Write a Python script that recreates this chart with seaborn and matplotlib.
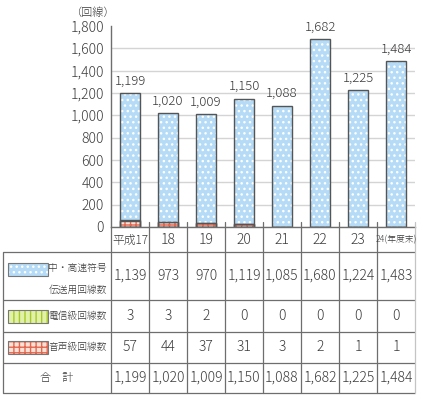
import matplotlib
matplotlib.use("Agg")
import matplotlib.pyplot as plt
import matplotlib.transforms as mtrans
from matplotlib.patches import Rectangle
from matplotlib.ticker import FuncFormatter
import seaborn as sns

# data (回線数)
years = ["平成17", "18", "19", "20", "21", "22", "23", "24(年度末)"]
high_speed = [1139, 973, 970, 1119, 1085, 1680, 1224, 1483]   # 中・高速符号伝送用回線数
telegraph = [3, 3, 2, 0, 0, 0, 0, 0]                          # 電信級回線数
voice = [57, 44, 37, 31, 3, 2, 1, 1]                          # 音声級回線数
totals = [1199, 1020, 1009, 1150, 1088, 1682, 1225, 1484]    # 合計

series_labels = [["中・高速符号", "伝送用回線数"], ["電信級回線数"], ["音声級回線数"]]

sns.set_theme(style="white")
plt.rcParams["font.family"] = ["Noto Sans CJK JP", "DejaVu Sans"]
plt.rcParams["font.weight"] = "light"
plt.rcParams["hatch.linewidth"] = 1.0

TXT = "#3c3c3c"
LINE = "#6e6e6e"
BLUE, BLUE_H = "#b5dbf6", "white"
GREEN, GREEN_H = "#e2f1a8", "#a6c92a"
RED, RED_H = "#fbe0d6", "#e2674f"

fig = plt.figure(figsize=(4.21, 3.96), dpi=100)
ax = fig.add_axes([111 / 421, 169 / 396, 304 / 421, 201 / 396])
ax.set_facecolor("none")

# stacked tops
top_tele = [v + t for v, t in zip(voice, telegraph)]
top_all = [a + b for a, b in zip(top_tele, high_speed)]

W = 0.53
sns.barplot(x=years, y=top_all, color=BLUE, saturation=1, width=W, errorbar=None,
            hatch="...", edgecolor=BLUE_H, linewidth=0, ax=ax)
sns.barplot(x=years, y=top_tele, color=GREEN, saturation=1, width=W, errorbar=None,
            hatch="|||", edgecolor=GREEN_H, linewidth=0, ax=ax)
sns.barplot(x=years, y=voice, color=RED, saturation=1, width=W, errorbar=None,
            hatch="+++", edgecolor=RED_H, linewidth=0, ax=ax)
for vals in (top_all, top_tele, voice):
    sns.barplot(x=years, y=vals, fill=False, color="#555555", width=W, errorbar=None,
                linewidth=1.0, ax=ax)

# totals above bars
ax.bar_label(ax.containers[3], labels=[f"{v:,}" for v in totals], padding=4,
             fontsize=9.5, color=TXT)

ax.set_ylim(0, 1800)
ax.set_yticks(range(0, 1801, 200))
ax.yaxis.set_major_formatter(FuncFormatter(lambda v, p: f"{v:,.0f}"))
ax.tick_params(axis="y", labelsize=10, labelcolor=TXT, length=4, direction="in",
               color=LINE, pad=5)
ax.set_xticks([])
ax.set_xlabel("")
ax.set_ylabel("")
ax.yaxis.grid(True, color="#d4d4d4", linewidth=1)
ax.set_axisbelow(True)
ax.get_ygridlines()[-1].set_visible(False)
for s in ("top", "right"):
    ax.spines[s].set_visible(False)
for s in ("left", "bottom"):
    ax.spines[s].set_color(LINE)
    ax.spines[s].set_linewidth(1)

# overlay in pixel coordinates for the data table
tab = fig.add_axes([0, 0, 1, 1])
tab.set_xlim(0, 421)
tab.set_ylim(396, 0)
tab.axis("off")
bt = mtrans.blended_transform_factory(ax.transData, tab.transData)

tab.text(115, 13, "（回線）", ha="right", va="center", fontsize=8, color=TXT)

row_lines = [252, 300, 332, 363, 393]
row_mid = [276, 316, 347, 378]
x_right = len(years) - 0.5

# horizontal rules
for y in row_lines:
    tab.plot([3, 415], [y, y], color=LINE, lw=0.9, solid_capstyle="butt")
tab.plot([3, 3], [252, 393], color=LINE, lw=0.9)
# column separators
for i in range(len(years)):
    y0 = 227 if i == 0 else 222
    tab.plot([i - 0.5, i - 0.5], [y0, 393], color=LINE, lw=0.9, transform=bt)
tab.plot([x_right, x_right], [222, 393], color="#c4c4c4", lw=0.9, transform=bt)

# header row
for i, lab in enumerate(years):
    if lab.startswith("24"):
        tab.text(i, 240, lab, ha="center", va="center", fontsize=6.3, color=TXT, transform=bt)
    elif lab.startswith("平成"):
        tab.text(i, 240, lab, ha="center", va="center", fontsize=8.5, color=TXT, transform=bt)
    else:
        tab.text(i, 240, lab, ha="center", va="center", fontsize=10, color=TXT, transform=bt)

# data rows
for r, vals in enumerate([high_speed, telegraph, voice, totals]):
    for i, v in enumerate(vals):
        tab.text(i, row_mid[r], f"{v:,}", ha="center", va="center", fontsize=10,
                 color=TXT, transform=bt)

# legend swatches + labels
sw = [(BLUE, BLUE_H, "...", 263, 13), (GREEN, GREEN_H, "|||", 310, 13), (RED, RED_H, "+++", 341, 13)]
for (fc, hc, h, y, hgt), lab in zip(sw, series_labels):
    tab.add_patch(Rectangle((8, y), 40, hgt, facecolor=fc, edgecolor=hc, hatch=h, lw=0))
    tab.add_patch(Rectangle((8, y), 40, hgt, facecolor="none", edgecolor="#777777", lw=0.8))
    if len(lab) == 2:
        tab.text(107, 268, lab[0], ha="right", va="center", fontsize=7.0, color=TXT)
        tab.text(107, 290, lab[1], ha="right", va="center", fontsize=7.0, color=TXT)
    else:
        tab.text(107, y + hgt / 2, lab[0], ha="right", va="center", fontsize=7.0, color=TXT)
tab.text(57, row_mid[3], "合　計", ha="center", va="center", fontsize=8, color=TXT)

fig.savefig("out.png", dpi=100)
